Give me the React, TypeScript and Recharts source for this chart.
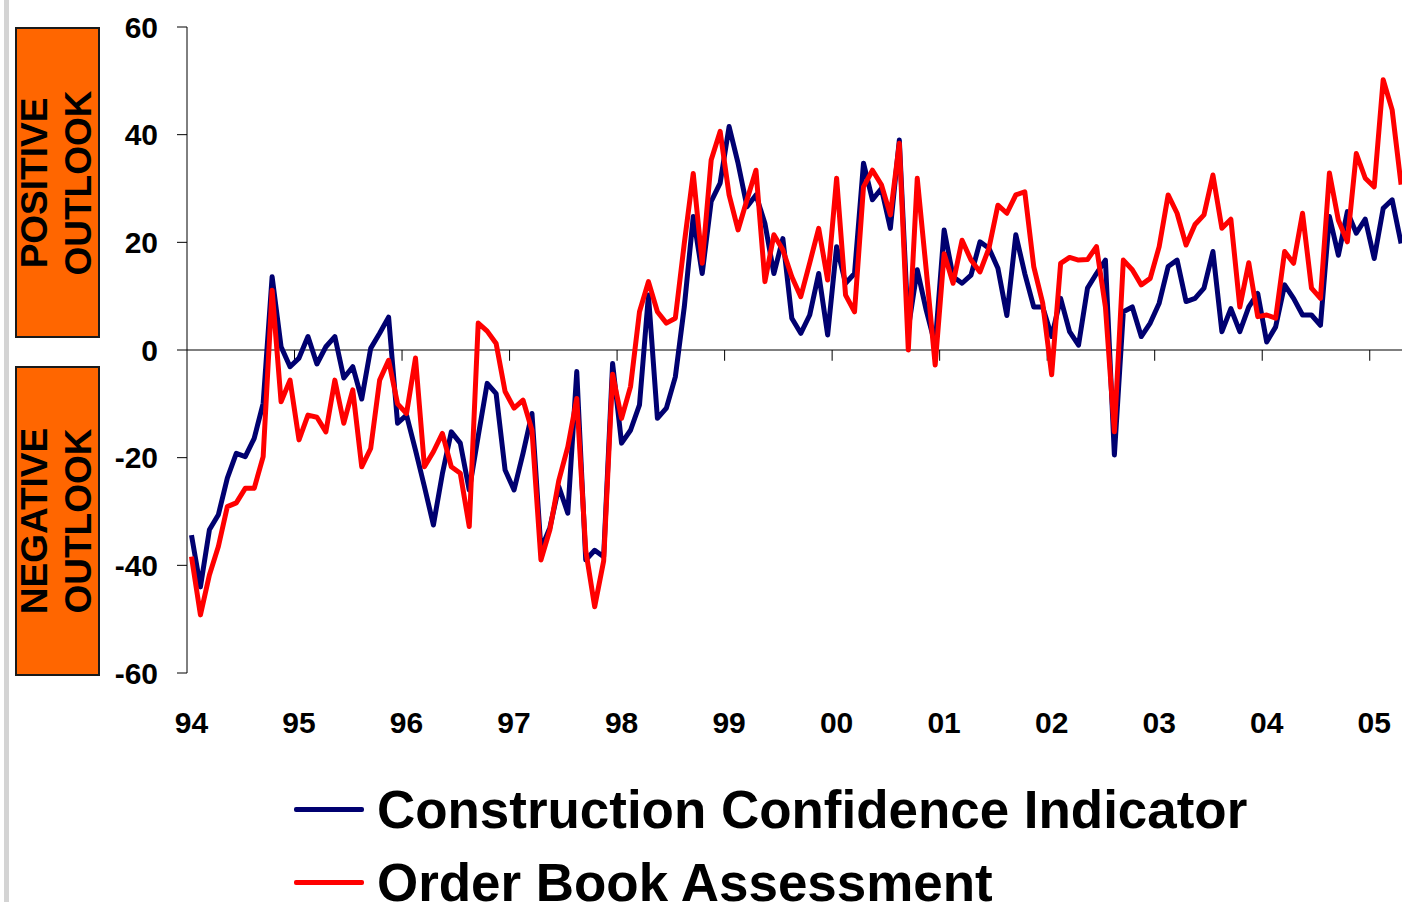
import React from "react";
import { LineChart, Line, XAxis, YAxis, ReferenceLine, Legend } from "recharts";

// monthly readings, Jan 1994 .. Apr 2005
const yearLabels = ["94", "95", "96", "97", "98", "99", "00", "01", "02", "03", "04", "05"];

const confidence = [
  -34.4, -44, -33.4, -30.6, -23.8, -19.2, -19.8, -16.4, -9.9, 13.6, 0.6, -3.1,
  -1.5, 2.5, -2.6, 0.6, 2.5, -5.2, -3.1, -9.1, 0.3, 3.1, 6.1, -13.6,
  -12.1, -18.6, -25.4, -32.5, -23, -15.2, -17.3, -26, -16, -6.2, -8.1, -22.3,
  -26, -19.2, -11.8, -37, -33, -25.4, -30.3, -4, -39, -37.2, -38.4, -2.5,
  -17.3, -14.9, -10.2, 10.2, -12.7, -10.8, -5, 8, 24.8, 14.2, 27.6, 31,
  41.5, 34.7, 26.6, 28.8, 23.5, 14.2, 20.7, 5.9, 3.1, 6.5, 14.2, 2.8,
  19.2, 12.4, 14.2, 34.7, 27.9, 30, 22.6, 39, 4, 14.9, 7.4, 1,
  22.3, 13.6, 12.4, 13.9, 20.1, 18.9, 15.2, 6.4, 21.4, 14.2, 8, 8,
  2.5, 9.6, 3.4, 0.9, 11.5, 14.2, 16.7, -19.5, 7.1, 8, 2.5, 5,
  8.7, 15.5, 16.7, 9, 9.6, 11.5, 18.3, 3.4, 7.7, 3.4, 8, 10.5,
  1.5, 4.3, 12.1, 9.6, 6.5, 6.5, 4.6, 24.8, 17.6, 25.7, 21.7, 24.3,
  17, 26.3, 27.9, 19.8,
];

const orderBook = [
  -38.4, -49.2, -41.8, -36.5, -29.1, -28.4, -25.7, -25.7, -19.8, 11.1, -9.6, -5.6,
  -16.7, -12.1, -12.5, -15.2, -5.6, -13.6, -7.4, -21.7, -18.3, -5.6, -1.9, -10,
  -11.8, -1.5, -21.7, -18.9, -15.5, -21.7, -22.9, -32.8, 5, 3.5, 1.2, -7.7,
  -10.8, -9.3, -14.9, -39, -33.4, -24.2, -18, -9, -37.2, -47.7, -39.2, -4.5,
  -12.7, -6.8, 7.1, 12.7, 7.1, 5, 5.9, 19.8, 32.8, 16.1, 35.3, 40.6,
  28.8, 22.3, 27.9, 33.4, 12.7, 21.4, 18.6, 13.6, 9.9, 16.2, 22.6, 13,
  31.9, 10.2, 7.1, 30.3, 33.4, 30.7, 25.1, 38.4, 0, 31.9, 14.9, -2.8,
  17.9, 12.4, 20.4, 16.7, 14.5, 18.9, 26.9, 25.4, 28.8, 29.4, 15.5, 8.7,
  -4.6, 16.1, 17.2, 16.7, 16.8, 19.2, 8, -15.2, 16.7, 14.9, 12.1, 13.3,
  19.2, 28.8, 25.4, 19.5, 23.3, 25.1, 32.5, 22.6, 24.3, 8, 16.2, 6.2,
  6.5, 5.9, 18.3, 16.1, 25.4, 11.5, 9.6, 32.9, 24.1, 20.1, 36.5, 31.9,
  30.3, 50.2, 44.6, 30.7,
];

const yTicks = [-60, -40, -20, 0, 20, 40, 60];

const data = confidence.map((v, i) => ({ idx: i, cci: v, oba: orderBook[i] }));
const xTicks = yearLabels.map((_, k) => k * 12);
const yearEdges = yearLabels.slice(1).map((_, k) => (k + 1) * 12 - 0.5);

const FONT = '"Liberation Sans", Arial, Helvetica, sans-serif';

function OutlookBox({ top, height, lines }: { top: number; height: number; lines: string[] }) {
  return (
    <div
      style={{
        position: "absolute",
        left: 15,
        top,
        width: 85,
        height,
        boxSizing: "border-box",
        background: "#ff6600",
        border: "2px solid #1a1a1a",
        display: "flex",
        alignItems: "center",
        justifyContent: "center",
      }}
    >
      <div
        style={{
          transform: "rotate(-90deg)",
          whiteSpace: "nowrap",
          textAlign: "center",
          fontFamily: FONT,
          fontWeight: 700,
          fontSize: 37,
          lineHeight: "44px",
          color: "#000",
        }}
      >
        {lines.map((l) => (
          <div key={l}>{l}</div>
        ))}
      </div>
    </div>
  );
}

function LegendContent(props: any) {
  const items = props.payload || [];
  return (
    <div style={{ fontFamily: FONT }}>
      {items.map((it: any) => (
        <div key={it.value} style={{ display: "flex", alignItems: "center", height: 73 }}>
          <div style={{ width: 70, height: 5, borderRadius: 2, background: it.color, marginRight: 13 }} />
          <span
            style={{
              fontSize: 54,
              fontWeight: 700,
              lineHeight: "73px",
              whiteSpace: "nowrap",
              display: "inline-block",
              transform: "scaleX(0.98)",
              transformOrigin: "left center",
              color: "#000",
            }}
          >
            {it.value}
          </span>
        </div>
      ))}
    </div>
  );
}

export default function App() {
  const tickStyle = { fontFamily: FONT, fontWeight: 700, fontSize: 30, fill: "#000" };
  return (
    <div style={{ position: "absolute", left: 0, top: 0, width: 1402, height: 902, overflow: "hidden", background: "#fff" }}>
      <div style={{ position: "absolute", left: 4, top: 0, width: 5, height: 902, background: "#d4d4d4" }} />
      <OutlookBox top={27} height={311} lines={["POSITIVE", "OUTLOOK"]} />
      <OutlookBox top={366} height={310} lines={["NEGATIVE", "OUTLOOK"]} />
      <div style={{ position: "absolute", left: 0, top: 0 }}>
        <LineChart width={1402} height={902} data={data} margin={{ top: 27, right: 0, bottom: 149, left: 0 }}>
          <XAxis
            dataKey="idx"
            type="number"
            domain={[-0.5, 135.1]}
            allowDataOverflow
            ticks={xTicks}
            tickFormatter={(v: number) => yearLabels[Math.round(v / 12)]}
            axisLine={false}
            tickLine={false}
            tickSize={0}
            tickMargin={39}
            height={80}
            tick={tickStyle}
            interval={0}
          />
          <YAxis
            domain={[-60, 60]}
            ticks={yTicks}
            width={187}
            tickSize={10}
            tickMargin={19}
            axisLine={{ stroke: "#000", strokeWidth: 1 }}
            tickLine={{ stroke: "#000", strokeWidth: 1 }}
            tick={tickStyle}
            interval={0}
          />
          <ReferenceLine y={0} stroke="#000" strokeWidth={1} />
          {yearEdges.map((x) => (
            <ReferenceLine
              key={x}
              segment={[
                { x, y: 0 },
                { x, y: -2 },
              ]}
              stroke="#000"
              strokeWidth={1}
            />
          ))}
          <Line
            type="linear"
            dataKey="cci"
            name="Construction Confidence Indicator"
            stroke="#000070"
            strokeWidth={5}
            strokeLinejoin="round"
            dot={false}
            activeDot={false}
            isAnimationActive={false}
          />
          <Line
            type="linear"
            dataKey="oba"
            name="Order Book Assessment"
            stroke="#ff0000"
            strokeWidth={5}
            strokeLinejoin="round"
            dot={false}
            activeDot={false}
            isAnimationActive={false}
          />
          <Legend
            layout="vertical"
            align="center"
            verticalAlign="middle"
            content={LegendContent}
            wrapperStyle={{ top: 773, left: 294, width: 1000 }}
          />
        </LineChart>
      </div>
    </div>
  );
}
